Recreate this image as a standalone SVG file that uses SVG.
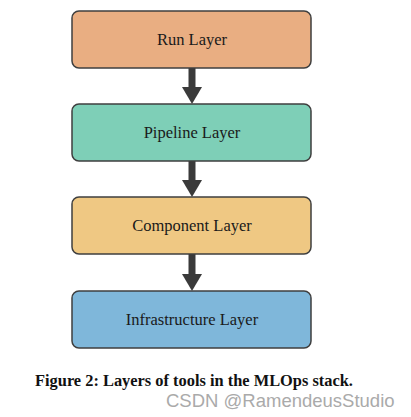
<svg xmlns="http://www.w3.org/2000/svg" width="411" height="417" viewBox="0 0 411 417">
<style>
.box{stroke:#3f3f3f;stroke-width:1.5}
.lbl{font-family:"Liberation Serif","DejaVu Serif",serif;font-size:16.5px;fill:#1a1a1a;text-anchor:middle;dominant-baseline:central}
.cap{font-family:"Liberation Serif","DejaVu Serif",serif;font-size:16.4px;font-weight:bold;fill:#111}
.wm{font-family:"Liberation Sans","DejaVu Sans",sans-serif;font-size:18.5px;fill:#aaaaaa}
.arr{stroke:#3a3a3a;stroke-width:7;fill:none}
.head{fill:#3a3a3a}
</style>
<rect width="411" height="417" fill="#ffffff"/>
<g id="connectors">
<line class="arr" x1="192" y1="68" x2="192" y2="90"/>
<polygon class="head" points="182,87 202,87 192,104"/>
<line class="arr" x1="192" y1="161" x2="192" y2="183"/>
<polygon class="head" points="182,180 202,180 192,197"/>
<line class="arr" x1="192" y1="254" x2="192" y2="277"/>
<polygon class="head" points="182,274 202,274 192,291"/>
</g>
<g id="run">
<rect class="box" x="72" y="11" width="239" height="57" rx="7" fill="#E9AE82"/>
<text class="lbl" x="192" y="39.5">Run Layer</text>
</g>
<g id="pipeline">
<rect class="box" x="72" y="104" width="239" height="57" rx="7" fill="#7ECFB7"/>
<text class="lbl" x="192" y="132.5">Pipeline Layer</text>
</g>
<g id="component">
<rect class="box" x="72" y="197" width="239" height="57" rx="7" fill="#EFC883"/>
<text class="lbl" x="192" y="225.5">Component Layer</text>
</g>
<g id="infrastructure">
<rect class="box" x="72" y="291" width="239" height="57" rx="7" fill="#7FB7DA"/>
<text class="lbl" x="192" y="319.5">Infrastructure Layer</text>
</g>
<text class="cap" x="35" y="386">Figure 2: Layers of tools in the MLOps stack.</text>
<text class="wm" x="166" y="407">CSDN @RamendeusStudio</text>
</svg>
